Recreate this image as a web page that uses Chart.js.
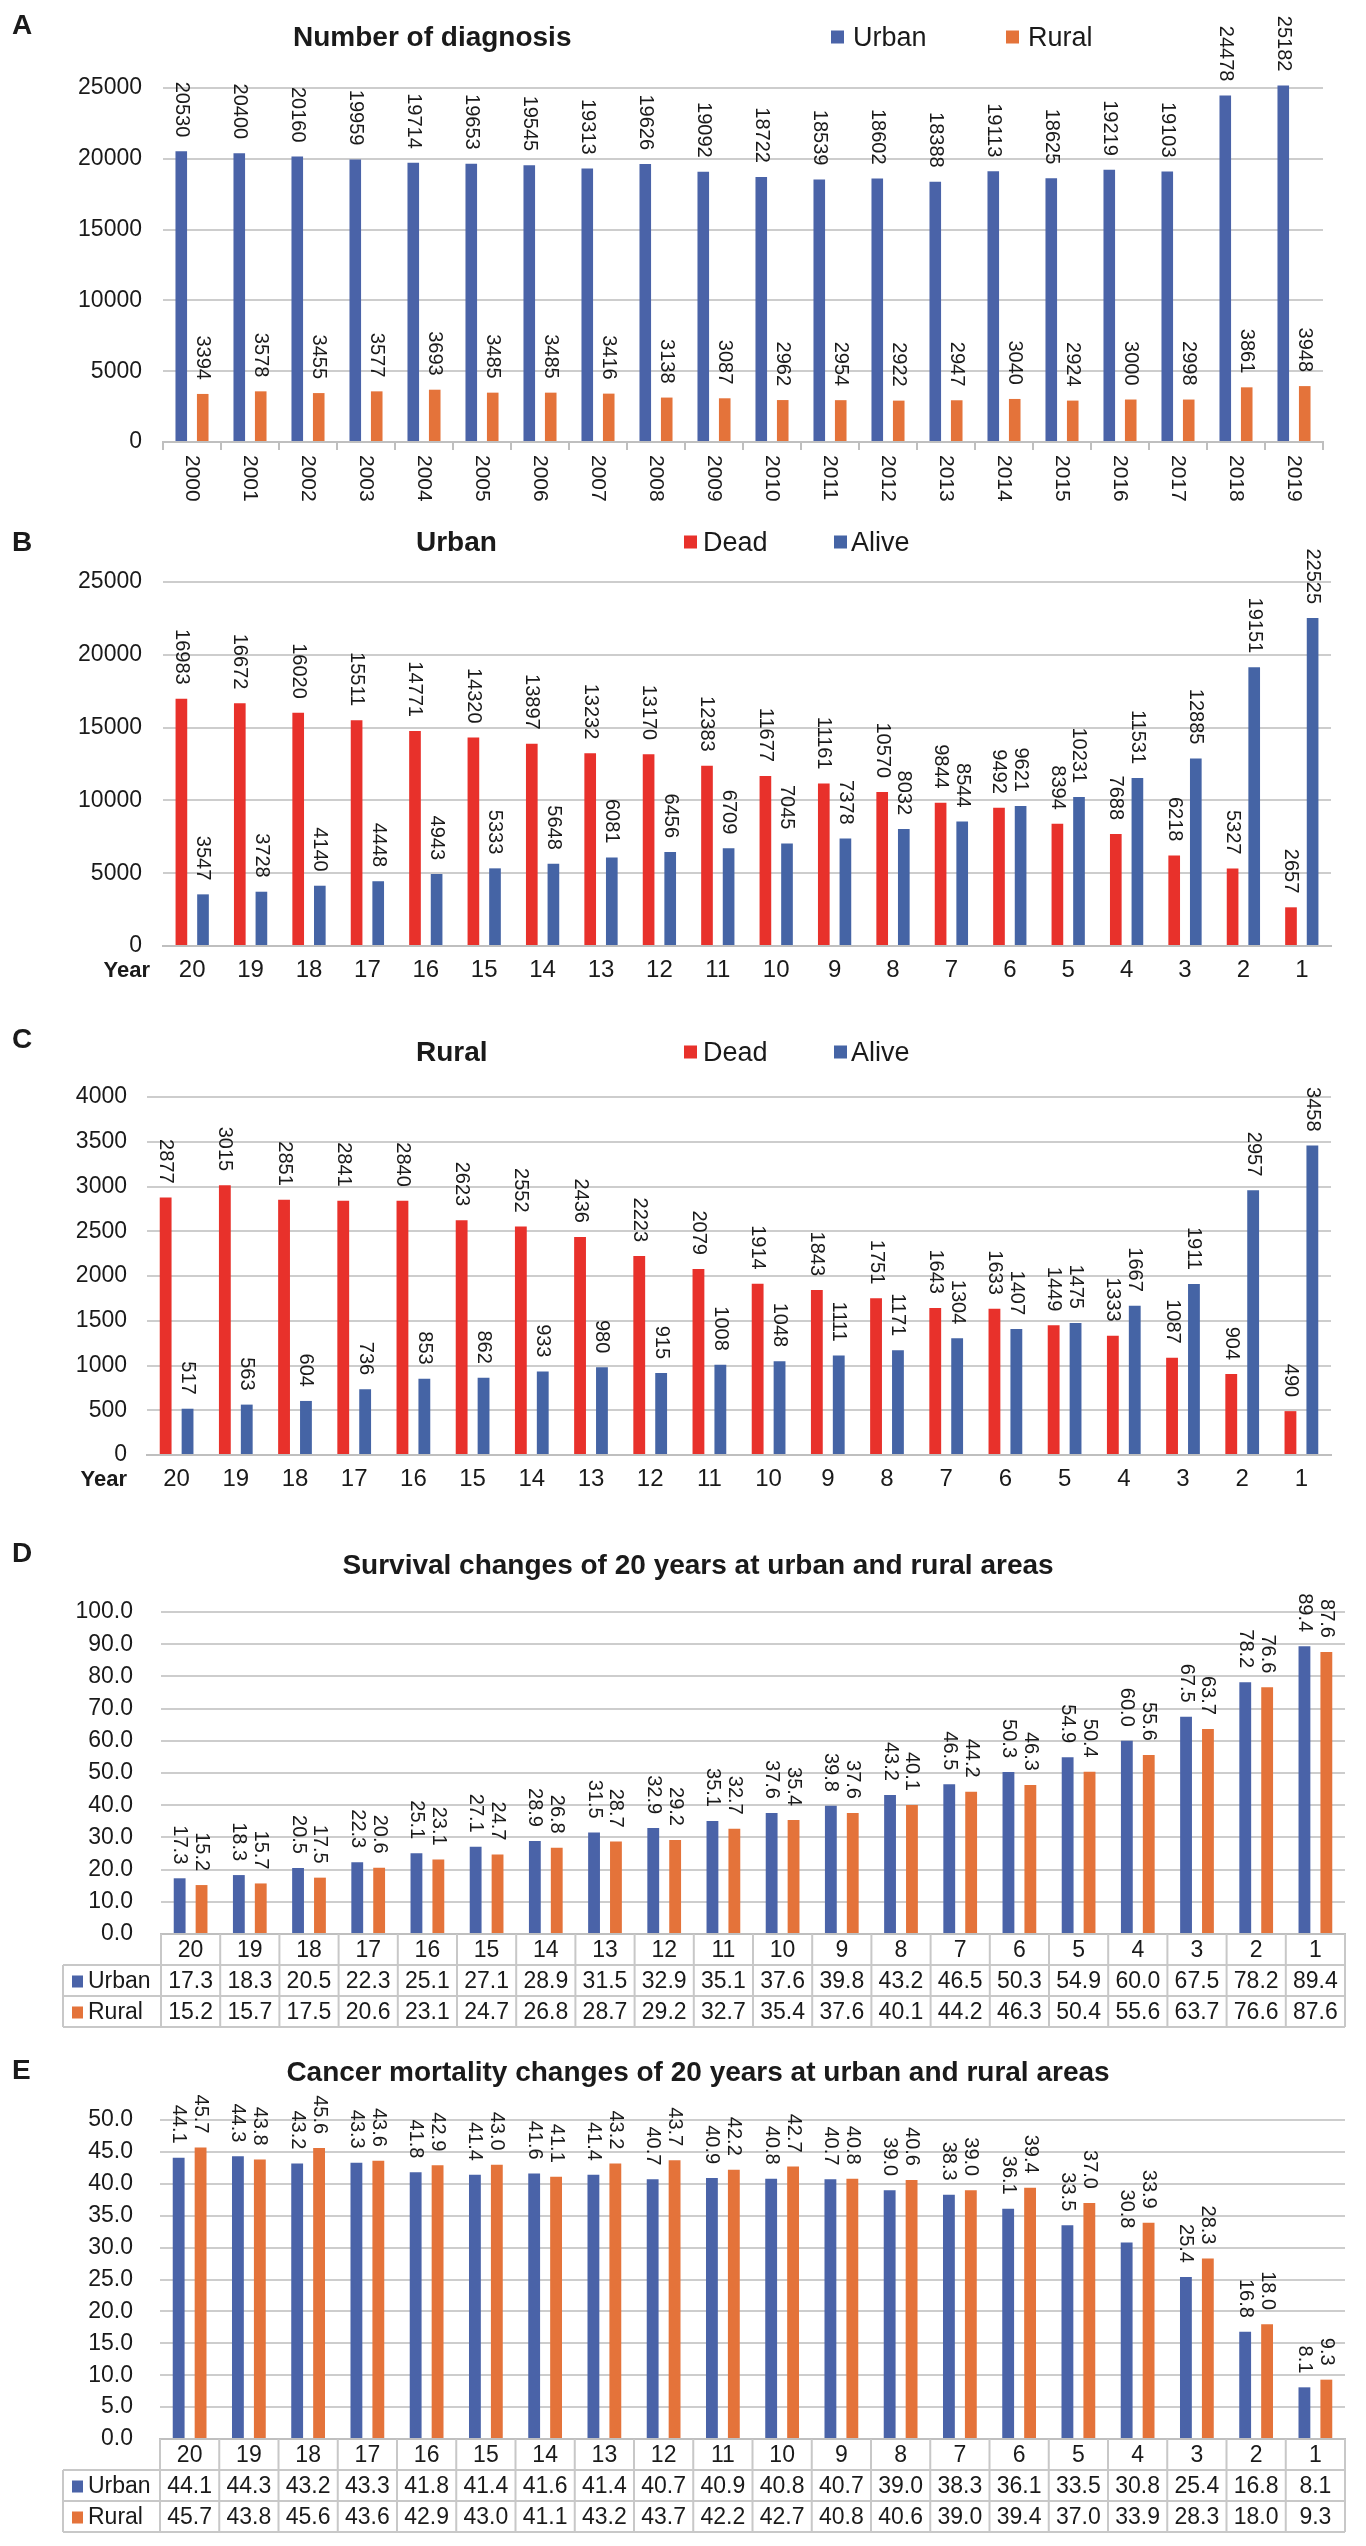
<!DOCTYPE html>
<html>
<head>
<meta charset="utf-8">
<script src="https://cdn.jsdelivr.net/npm/chart.js@4.4.1/dist/chart.umd.min.js"></script>
<style>
  body { margin:0; background:#fff; font-family:"Liberation Sans", Arial, sans-serif; color:#1a1a1a; }
  #page { position:relative; width:1366px; height:2546px; overflow:hidden; }
  canvas { position:absolute; left:0; }
  .t { position:absolute; white-space:nowrap; line-height:1; transform:translateY(-50%); }
  .letter { font-weight:bold; font-size:28px; left:12px; }
  .title { font-weight:bold; font-size:28px; }
  .ctr { transform:translate(-50%,-50%); }
  .leg { font-size:27px; }
  .sw { position:absolute; width:13px; height:13px; transform:translateY(-50%); }
</style>
</head>
<body>
<div id="page">
  <canvas id="cA" width="1366" height="510" style="top:0"></canvas>
  <canvas id="cB" width="1366" height="490" style="top:510px"></canvas>
  <canvas id="cC" width="1366" height="500" style="top:1000px"></canvas>
  <canvas id="cD" width="1366" height="530" style="top:1500px"></canvas>
  <canvas id="cE" width="1366" height="516" style="top:2030px"></canvas>

  <div class="t letter" style="top:25px">A</div>
  <div class="t title" style="left:293px;top:37px">Number of diagnosis</div>
  <div class="sw" style="left:831px;top:37px;background:#4a63a8"></div>
  <div class="t leg" style="left:853px;top:37px">Urban</div>
  <div class="sw" style="left:1006px;top:37px;background:#e4733a"></div>
  <div class="t leg" style="left:1028px;top:37px">Rural</div>

  <div class="t letter" style="top:542px">B</div>
  <div class="t title" style="left:416px;top:542px">Urban</div>
  <div class="sw" style="left:684px;top:542px;background:#e8312b"></div>
  <div class="t leg" style="left:703px;top:542px">Dead</div>
  <div class="sw" style="left:834px;top:542px;background:#4564a5"></div>
  <div class="t leg" style="left:851px;top:542px">Alive</div>

  <div class="t letter" style="top:1039px">C</div>
  <div class="t title" style="left:416px;top:1052px">Rural</div>
  <div class="sw" style="left:684px;top:1052px;background:#e8312b"></div>
  <div class="t leg" style="left:703px;top:1052px">Dead</div>
  <div class="sw" style="left:834px;top:1052px;background:#4564a5"></div>
  <div class="t leg" style="left:851px;top:1052px">Alive</div>

  <div class="t letter" style="top:1553px">D</div>
  <div class="t title ctr" style="left:698px;top:1565px">Survival changes of 20 years at urban and rural areas</div>

  <div class="t letter" style="top:2070px">E</div>
  <div class="t title ctr" style="left:698px;top:2072px">Cancer mortality changes of 20 years at urban and rural areas</div>
</div>

<script>
// Data
const years = ["2000","2001","2002","2003","2004","2005","2006","2007","2008","2009",
               "2010","2011","2012","2013","2014","2015","2016","2017","2018","2019"];
const diagUrban = [20530,20400,20160,19959,19714,19653,19545,19313,19626,19092,
                   18722,18539,18602,18388,19113,18625,19219,19103,24478,25182];
const diagRural = [3394,3578,3455,3577,3693,3485,3485,3416,3138,3087,
                   2962,2954,2922,2947,3040,2924,3000,2998,3861,3948];

const yearsBack = ["20","19","18","17","16","15","14","13","12","11",
                   "10","9","8","7","6","5","4","3","2","1"];
const urbanDead  = [16983,16672,16020,15511,14771,14320,13897,13232,13170,12383,
                    11677,11161,10570,9844,9492,8394,7688,6218,5327,2657];
const urbanAlive = [3547,3728,4140,4448,4943,5333,5648,6081,6456,6709,
                    7045,7378,8032,8544,9621,10231,11531,12885,19151,22525];
const ruralDead  = [2877,3015,2851,2841,2840,2623,2552,2436,2223,2079,
                    1914,1843,1751,1643,1633,1449,1333,1087,904,490];
const ruralAlive = [517,563,604,736,853,862,933,980,915,1008,
                    1048,1111,1171,1304,1407,1475,1667,1911,2957,3458];

const survUrban = [17.3,18.3,20.5,22.3,25.1,27.1,28.9,31.5,32.9,35.1,
                   37.6,39.8,43.2,46.5,50.3,54.9,60.0,67.5,78.2,89.4];
const survRural = [15.2,15.7,17.5,20.6,23.1,24.7,26.8,28.7,29.2,32.7,
                   35.4,37.6,40.1,44.2,46.3,50.4,55.6,63.7,76.6,87.6];
const mortUrban = [44.1,44.3,43.2,43.3,41.8,41.4,41.6,41.4,40.7,40.9,
                   40.8,40.7,39.0,38.3,36.1,33.5,30.8,25.4,16.8,8.1];
const mortRural = [45.7,43.8,45.6,43.6,42.9,43.0,41.1,43.2,43.7,42.2,
                   42.7,40.8,40.6,39.0,39.4,37.0,33.9,28.3,18.0,9.3];

const BLUE = "#4a63a8", ORANGE = "#e4733a", RED = "#e8312b", BLUE2 = "#4564a5";
const FONT = '"Liberation Sans", Arial, sans-serif';
const GRID = "#cdcdcd";

// rotated value labels above every bar
const barValueLabels = {
  id: "barValueLabels",
  afterDatasetsDraw(chart, args, opt) {
    const ctx = chart.ctx;
    ctx.save();
    ctx.font = "20px " + FONT;
    ctx.fillStyle = "#1a1a1a";
    ctx.textAlign = "right";
    ctx.textBaseline = "middle";
    chart.data.datasets.forEach((ds, i) => {
      chart.getDatasetMeta(i).data.forEach((bar, j) => {
        ctx.save();
        ctx.translate(bar.x, bar.y - 14);
        ctx.rotate(Math.PI / 2);
        ctx.fillText(ds.data[j].toFixed(opt.decimals || 0), 0, 0);
        ctx.restore();
      });
    });
    ctx.restore();
  }
};

// panel A: year labels rotated, reading downwards
const downLabels = {
  id: "downLabels",
  afterDraw(chart) {
    const {ctx, chartArea} = chart, xs = chart.scales.x;
    ctx.save();
    ctx.font = "21px " + FONT;
    ctx.fillStyle = "#1a1a1a";
    ctx.textAlign = "left";
    ctx.textBaseline = "middle";
    chart.data.labels.forEach((lab, i) => {
      ctx.save();
      ctx.translate(xs.getPixelForValue(i), chartArea.bottom + 13);
      ctx.rotate(Math.PI / 2);
      ctx.fillText(lab, 0, 0);
      ctx.restore();
    });
    ctx.restore();
  }
};

// "Year" caption left of the category labels
const yearCaption = {
  id: "yearCaption",
  afterDraw(chart, args, opt) {
    const ctx = chart.ctx;
    ctx.save();
    ctx.font = "bold 22px " + FONT;
    ctx.fillStyle = "#1a1a1a";
    ctx.textAlign = "right";
    ctx.textBaseline = "middle";
    ctx.fillText("Year", opt.x, chart.chartArea.bottom + 25);
    ctx.restore();
  }
};

// data table under panels D and E
const dataTable = {
  id: "dataTable",
  afterDraw(chart) {
    const {ctx, chartArea: {left, right, bottom}} = chart;
    const xs = chart.scales.x, n = chart.data.labels.length;
    const w = (right - left) / n, h = 31, x0 = 63;
    ctx.save();
    ctx.strokeStyle = "#c8c8c8";
    ctx.lineWidth = 2;
    ctx.beginPath();
    for (let r = 1; r <= 3; r++) { ctx.moveTo(x0, bottom + r*h); ctx.lineTo(right, bottom + r*h); }
    ctx.moveTo(x0, bottom + h); ctx.lineTo(x0, bottom + 3*h);
    for (let i = 0; i <= n; i++) { ctx.moveTo(left + i*w, bottom); ctx.lineTo(left + i*w, bottom + 3*h); }
    ctx.stroke();
    ctx.font = "23px " + FONT;
    ctx.textBaseline = "middle";
    ctx.textAlign = "center";
    ctx.fillStyle = "#1a1a1a";
    chart.data.labels.forEach((lab, i) => ctx.fillText(lab, xs.getPixelForValue(i), bottom + h/2 + 1));
    chart.data.datasets.forEach((ds, k) => {
      const yy = bottom + h*(k+1) + h/2 + 1;
      ctx.textAlign = "center";
      ctx.fillStyle = "#1a1a1a";
      ds.data.forEach((v, i) => ctx.fillText(v.toFixed(1), xs.getPixelForValue(i), yy));
      ctx.fillStyle = ds.backgroundColor;
      ctx.fillRect(72, yy - 6, 11, 12);
      ctx.fillStyle = "#1a1a1a";
      ctx.textAlign = "left";
      ctx.fillText(ds.label, 88, yy);
    });
    ctx.restore();
  }
};

function barChart(id, o) {
  const x = {
    border: {display: true, color: "#bfbfbf", width: 2},
    grid: {display: false, drawTicks: false},
    ticks: {display: false},
    afterFit(s) { s.height = o.axisH; }
  };
  if (o.tickMarks) x.grid = {display: true, drawOnChartArea: false, drawTicks: true, tickLength: 8, color: "#bfbfbf", lineWidth: 2};
  if (o.plainTicks) x.ticks = {display: true, autoSkip: false, maxRotation: 0, padding: 10, color: "#1a1a1a", font: {family: FONT, size: 24}};
  const plugins = [barValueLabels];
  if (o.downLabels) plugins.push(downLabels);
  if (o.yearX) plugins.push(yearCaption);
  if (o.table) plugins.push(dataTable);
  return new Chart(document.getElementById(id), {
    type: "bar",
    data: {
      labels: o.labels,
      datasets: o.series.map(s => ({
        label: s.label, data: s.data, backgroundColor: s.color,
        categoryPercentage: 0.74, barPercentage: 0.54, clip: false
      }))
    },
    options: {
      responsive: false, animation: false, devicePixelRatio: 1,
      layout: {padding: {top: o.top, right: 1366 - o.right, left: 0, bottom: 0}},
      plugins: {
        legend: {display: false}, tooltip: {enabled: false},
        barValueLabels: {decimals: o.decimals || 0},
        yearCaption: {x: o.yearX || 0}
      },
      scales: {
        x: x,
        y: {
          min: 0, max: o.max,
          border: {display: false},
          grid: {color: GRID, lineWidth: 2, drawTicks: false},
          ticks: {
            stepSize: o.step, padding: o.pad, color: "#1a1a1a", font: {family: FONT, size: 23},
            callback: v => o.decimals ? v.toFixed(1) : v
          },
          afterFit(s) { s.width = o.left; }
        }
      }
    },
    plugins: plugins
  });
}

barChart("cA", {
  labels: years, top: 88, right: 1323, left: 163, pad: 21, axisH: 68,
  max: 25000, step: 5000, tickMarks: true, downLabels: true,
  series: [{label: "Urban", data: diagUrban, color: BLUE}, {label: "Rural", data: diagRural, color: ORANGE}]
});
barChart("cB", {
  labels: yearsBack, top: 72, right: 1331, left: 163, pad: 21, axisH: 54,
  max: 25000, step: 5000, plainTicks: true, yearX: 150,
  series: [{label: "Dead", data: urbanDead, color: RED}, {label: "Alive", data: urbanAlive, color: BLUE2}]
});
barChart("cC", {
  labels: yearsBack, top: 97, right: 1331, left: 147, pad: 20, axisH: 45,
  max: 4000, step: 500, plainTicks: true, yearX: 127,
  series: [{label: "Dead", data: ruralDead, color: RED}, {label: "Alive", data: ruralAlive, color: BLUE2}]
});
barChart("cD", {
  labels: yearsBack, top: 112, right: 1345, left: 161, pad: 28, axisH: 96,
  max: 100, step: 10, decimals: 1, table: true,
  series: [{label: "Urban", data: survUrban, color: BLUE}, {label: "Rural", data: survRural, color: ORANGE}]
});
barChart("cE", {
  labels: yearsBack, top: 90, right: 1345, left: 160, pad: 27, axisH: 107,
  max: 50, step: 5, decimals: 1, table: true,
  series: [{label: "Urban", data: mortUrban, color: BLUE}, {label: "Rural", data: mortRural, color: ORANGE}]
});
</script>
</body>
</html>
